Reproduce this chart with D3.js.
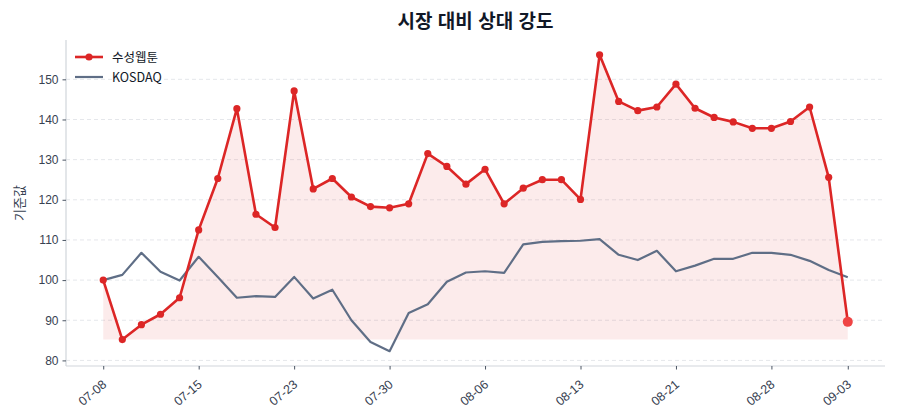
<!DOCTYPE html>
<html lang="ko">
  <head>
    <meta charset="utf-8">
    <title>시장 대비 상대 강도</title>
    <style type="text/css">
      body{
        margin: 0;
        background-color: white;
        font-family: "Noto Sans CJK KR", "Noto Sans", sans-serif;
      }
      .grid line{
        stroke: #e5e7eb;
        stroke-dasharray: 4,3;
      }
      .axis text{
        fill: #374151;
        font-size: 12px;
      }
      .axis .domain{ stroke: #d1d5db; stroke-width: 1.2; }
      .axis .tick line{ stroke: #4b5563; }
    </style>
  </head>
  <body>
    <div id='svg_container'></div>

    <script src="https://d3js.org/d3.v7.min.js"></script>
    <script type="text/javascript">

      const w = 900;
      const h = 420;

      // trading dates (MM-DD)
      const dates = [
        '07-08','07-09','07-10','07-11','07-12',
        '07-15','07-16','07-17','07-18','07-22',
        '07-23','07-24','07-25','07-26','07-29',
        '07-30','07-31','08-01','08-02','08-05',
        '08-06','08-07','08-08','08-09','08-12',
        '08-13','08-14','08-16','08-19','08-20',
        '08-21','08-22','08-23','08-26','08-27',
        '08-28','08-29','08-30','09-02','09-03'
      ];

      const stockName = '수성웹툰';
      const stockValues = [
        100.0, 85.2, 88.9, 91.5, 95.6, 112.5, 125.3, 142.7, 116.4, 113.1,
        147.1, 122.7, 125.3, 120.7, 118.3, 118.0, 119.0, 131.5, 128.3, 123.9,
        127.6, 119.0, 122.9, 125.0, 125.0, 120.1, 156.1, 144.5, 142.2, 143.1,
        148.8, 142.8, 140.5, 139.4, 137.8, 137.8, 139.5, 143.1, 125.6, 89.6
      ];

      const marketName = 'KOSDAQ';
      const marketValues = [
        100.0, 101.3, 106.8, 102.1, 99.9, 105.8, 100.8, 95.6, 96.0, 95.8,
        100.8, 95.4, 97.6, 90.0, 84.6, 82.3, 91.8, 94.0, 99.6, 101.9,
        102.2, 101.8, 108.9, 109.5, 109.7, 109.8, 110.2, 106.3, 105.0, 107.3,
        102.2, 103.6, 105.3, 105.3, 106.8, 106.8, 106.3, 104.8, 102.5, 100.7
      ];

      const yTicks = [80, 90, 100, 110, 120, 130, 140, 150];
      const xTickIdx = [0, 5, 10, 15, 20, 25, 30, 35, 39];

      const title = '시장 대비 상대 강도';
      const yLabel = '기준값';

    document.addEventListener('DOMContentLoaded', function() {

      var margin = {left: 66, right: 15, top: 40, bottom: 54};

      var svg = d3.select('#svg_container').append('svg')
        .attr('width', w).attr('height', h)
        .style('font-family', '"Noto Sans CJK KR", "Noto Sans", sans-serif');

      var n = dates.length;
      var pad = (n - 1) * 0.05;
      var x = d3.scaleLinear()
        .domain([-pad, n - 1 + pad])
        .range([margin.left, w - margin.right]);

      var all = stockValues.concat(marketValues);
      var lo = d3.min(all), hi = d3.max(all);
      var ypad = (hi - lo) * 0.05;
      var y = d3.scaleLinear()
        .domain([lo - ypad, hi + ypad])
        .range([h - margin.bottom, margin.top]);

      // grid
      svg.append('g').attr('class', 'grid')
        .selectAll('line').data(yTicks).enter().append('line')
        .attr('x1', margin.left).attr('x2', w - margin.right)
        .attr('y1', d => y(d)).attr('y2', d => y(d));

      // fill under the stock line down to its minimum
      var base = d3.min(stockValues);
      var area = d3.area()
        .x((d, i) => x(i))
        .y0(y(base))
        .y1(d => y(d));
      svg.append('path')
        .datum(stockValues)
        .attr('d', area)
        .attr('fill', '#dc2626')
        .attr('fill-opacity', 0.09);

      // axes
      var yAxis = svg.append('g').attr('class', 'axis')
        .attr('transform', 'translate(' + margin.left + ',0)')
        .call(d3.axisLeft(y).tickValues(yTicks).tickSize(3.5).tickPadding(4));
      yAxis.select('.domain').attr('d', 'M0,' + (h - margin.bottom) + 'V' + margin.top);

      var xAxis = svg.append('g').attr('class', 'axis')
        .attr('transform', 'translate(0,' + (h - margin.bottom) + ')')
        .call(d3.axisBottom(x).tickValues(xTickIdx).tickSize(3.5)
          .tickFormat(i => dates[i]));
      xAxis.select('.domain').attr('d', 'M' + margin.left + ',0H' + (w - margin.right));
      xAxis.selectAll('text')
        .attr('x', 0).attr('y', 0)
        .attr('text-anchor', 'end')
        .attr('dy', '0.71em')
        .style('font-size', '12.5px')
        .attr('transform', 'translate(-2,13) rotate(-40)');

      // market line
      var line = d3.line().x((d, i) => x(i)).y(d => y(d));
      svg.append('path')
        .datum(marketValues)
        .attr('d', line)
        .attr('fill', 'none')
        .attr('stroke', '#5f6e86')
        .attr('stroke-width', 2.2)
        .attr('stroke-linejoin', 'round');

      // stock line
      svg.append('path')
        .datum(stockValues)
        .attr('d', line)
        .attr('fill', 'none')
        .attr('stroke', '#dc2626')
        .attr('stroke-width', 2.6)
        .attr('stroke-linejoin', 'round');

      svg.append('g').selectAll('circle')
        .data(stockValues).enter().append('circle')
        .attr('cx', (d, i) => x(i))
        .attr('cy', d => y(d))
        .attr('r', (d, i) => i === n - 1 ? 5 : 3.6)
        .attr('fill', (d, i) => i === n - 1 ? '#ef4444' : '#dc2626');

      // title + y label
      svg.append('text')
        .attr('x', (margin.left + w - margin.right) / 2)
        .attr('y', 28)
        .attr('text-anchor', 'middle')
        .attr('font-size', '19px')
        .attr('font-weight', 'bold')
        .attr('fill', '#111827')
        .text(title);

      svg.append('text')
        .attr('transform', 'translate(24,' + ((margin.top + h - margin.bottom) / 2) + ') rotate(-90)')
        .attr('text-anchor', 'middle')
        .attr('font-size', '13px')
        .attr('fill', '#374151')
        .text(yLabel);

      // legend
      var legend = svg.append('g').attr('transform', 'translate(75,57)');
      legend.append('line')
        .attr('x1', 0).attr('x2', 28).attr('y1', 0).attr('y2', 0)
        .attr('stroke', '#dc2626').attr('stroke-width', 2.6);
      legend.append('circle').attr('cx', 14).attr('cy', 0).attr('r', 3.6).attr('fill', '#dc2626');
      legend.append('text').attr('x', 37).attr('y', 4.5)
        .attr('font-size', '12.5px').attr('fill', '#111827').text(stockName);
      legend.append('line')
        .attr('x1', 0).attr('x2', 28).attr('y1', 20).attr('y2', 20)
        .attr('stroke', '#5f6e86').attr('stroke-width', 2.2);
      legend.append('text').attr('x', 37).attr('y', 24.5)
        .attr('font-size', '12.5px').attr('fill', '#111827').text(marketName);

    });
    </script>
  </body>
</html>
